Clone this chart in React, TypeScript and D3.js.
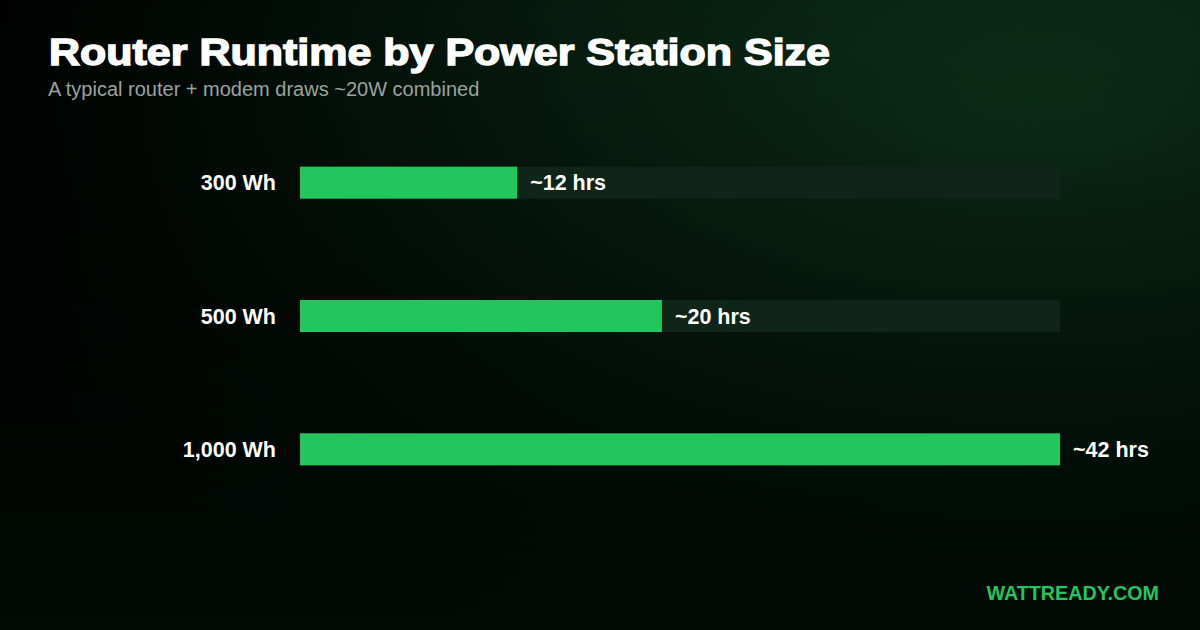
import React from "react";
import * as d3 from "d3";

const categories = ["300 Wh", "500 Wh", "1,000 Wh"];
const hours = [12, 20, 42];
const valueLabels = ["~12 hrs", "~20 hrs", "~42 hrs"];
const domainMax = 42;

const W = 1200;
const H = 630;

export default function App() {
  const x = d3.scaleLinear().domain([0, domainMax]).range([300, 1060]);
  const y = d3.scaleBand().domain(categories).range([116, 516]).paddingInner(0.76).paddingOuter(0.38);
  const bh = 32;
  const font = "'Liberation Sans', Arial, Helvetica, sans-serif";
  return (
    <svg width={W} height={H} style={{ position: "absolute", left: 0, top: 0, display: "block" }} fontFamily={font}>
      <defs>
        <radialGradient id="bg" cx="86%" cy="16%" r="95%" fx="86%" fy="16%">
          <stop offset="0%" stopColor="#0c3019" />
          <stop offset="40%" stopColor="#061c0f" />
          <stop offset="80%" stopColor="#010603" />
          <stop offset="100%" stopColor="#000000" />
        </radialGradient>
        <linearGradient id="bg2" x1="0" y1="0" x2="0" y2="1">
          <stop offset="0%" stopColor="#000" stopOpacity={0} />
          <stop offset="100%" stopColor="#021008" stopOpacity={0.6} />
        </linearGradient>
      </defs>
      <rect x={0} y={0} width={W} height={H} fill="#000" />
      <rect x={0} y={0} width={W} height={H} fill="url(#bg)" />
      <rect x={0} y={0} width={W} height={H} fill="url(#bg2)" />
      <text
        x={49}
        y={65}
        fill="#ffffff"
        stroke="#ffffff"
        strokeWidth={1.4}
        fontSize={37}
        fontWeight={700}
        textLength={781}
        lengthAdjust="spacingAndGlyphs"
      >
        Router Runtime by Power Station Size
      </text>
      <text x={48} y={96} fill="#9aa39e" fontSize={20}>
        A typical router + modem draws ~20W combined
      </text>
      {categories.map((c, i) => {
        const cy = (y(c) as number) + y.bandwidth() / 2;
        const top = cy - bh / 2;
        return (
          <g key={c}>
            <rect x={x(0)} y={top} width={x(domainMax) - x(0)} height={bh} fill="#10251a" />
            <rect x={x(0)} y={top} width={x(hours[i]) - x(0)} height={bh} fill="#22c55e" />
            <text x={276} y={cy} dy="0.35em" textAnchor="end" fill="#ffffff" fontSize={21.5} fontWeight={700}>
              {c}
            </text>
            <text x={x(hours[i]) + 13} y={cy} dy="0.35em" fill="#ffffff" fontSize={21.5} fontWeight={700}>
              {valueLabels[i]}
            </text>
          </g>
        );
      })}
      <text x={1159} y={600} textAnchor="end" fill="#22c55e" fontSize={19.7} fontWeight={700}>
        WATTREADY.COM
      </text>
    </svg>
  );
}
